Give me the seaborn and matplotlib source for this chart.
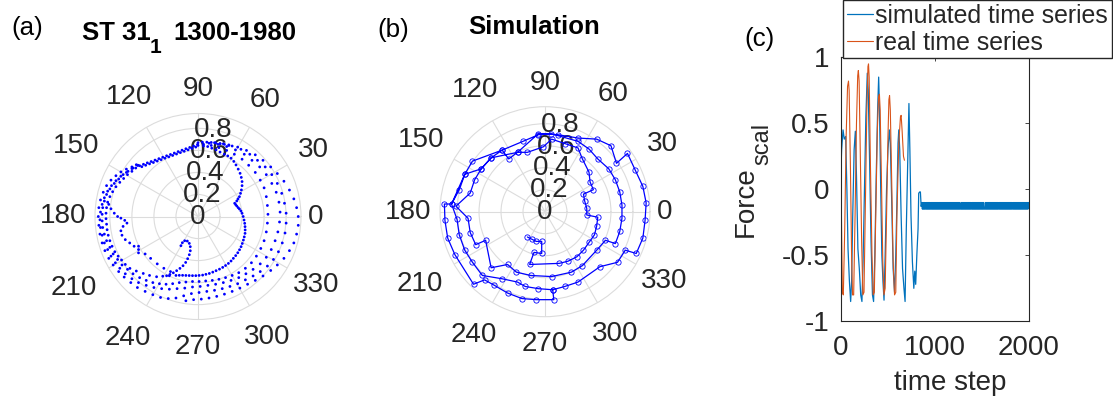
import numpy as np
import matplotlib
matplotlib.use("Agg")
import matplotlib.pyplot as plt
import seaborn as sns

# ---------------- data ----------------
# panel (a): measured force vector (x, y components) - dots
a_band = [(-0.53,0.461),(-0.495,0.474),(-0.46,0.487),(-0.425,0.499),(-0.39,0.512),(-0.355,0.525),(-0.32,0.538),
          (-0.285,0.551),(-0.25,0.563),(-0.215,0.576),(-0.18,0.589),(-0.145,0.602),(-0.11,0.615),(-0.075,0.627),
          (-0.04,0.640),(-0.005,0.653),(-0.51,0.452),(-0.475,0.465),(-0.44,0.478),(-0.405,0.49),(-0.37,0.503),
          (-0.335,0.516),(-0.30,0.529),(-0.265,0.541),(-0.23,0.554),(-0.195,0.567),(-0.16,0.58),(-0.125,0.592),
          (-0.09,0.605),(-0.055,0.618),(-0.02,0.63),(0.0,0.67),(0.04,0.675),(0.08,0.675),(0.12,0.672),
          (0.16,0.668),(0.20,0.662),(0.24,0.655),(0.28,0.645)]
a_right1 = [(0.00,0.645),(0.05,0.64),(0.088,0.635),(0.125,0.62),(0.164,0.605),(0.20,0.585),(0.239,0.565),
            (0.27,0.55),(0.30,0.529),(0.325,0.50),(0.345,0.468),(0.365,0.43),(0.382,0.392),(0.393,0.355),
            (0.40,0.317),(0.40,0.28),(0.394,0.241),(0.386,0.21),(0.376,0.18),(0.363,0.16),(0.352,0.141),
            (0.333,0.12),(0.342,0.108),(0.352,0.095),(0.365,0.08),(0.376,0.068),(0.39,0.05),(0.40,0.029),
            (0.41,0.0),(0.418,-0.032),(0.424,-0.062),(0.427,-0.092),(0.428,-0.122),(0.427,-0.153),(0.42,-0.185),
            (0.412,-0.214),(0.402,-0.245),(0.391,-0.274),(0.377,-0.302),(0.361,-0.329),(0.342,-0.355),
            (0.321,-0.38),(0.30,-0.404),(0.276,-0.426),(0.25,-0.445),(0.224,-0.462),(0.195,-0.478),
            (0.164,-0.492),(0.134,-0.505),(0.103,-0.517),(0.072,-0.525),(0.042,-0.532),(0.01,-0.535),
            (-0.02,-0.537),(-0.05,-0.537),(-0.08,-0.536),(-0.11,-0.535),(-0.14,-0.534),(-0.17,-0.534),(-0.20,-0.535)]
a_right2 = [(0.05,0.655),(0.12,0.645),(0.19,0.625),(0.26,0.60),(0.33,0.565),(0.40,0.52),(0.46,0.465),(0.52,0.40),
            (0.565,0.33),(0.60,0.26),(0.62,0.18),(0.63,0.10),(0.635,0.02),(0.63,-0.06),(0.62,-0.14),(0.60,-0.22),
            (0.57,-0.29),(0.53,-0.36),(0.485,-0.42),(0.43,-0.47),(0.37,-0.51),(0.31,-0.535),(0.25,-0.555),
            (0.19,-0.57),(0.13,-0.58),(0.07,-0.585),(0.01,-0.59)]
a_right3 = [(0.10,0.665),(0.18,0.655),(0.26,0.635),(0.34,0.605),(0.42,0.565),(0.49,0.51),(0.56,0.45),(0.62,0.38),
            (0.67,0.30),(0.71,0.22),(0.735,0.13),(0.745,0.04),(0.74,-0.05),(0.725,-0.14),(0.70,-0.22),
            (0.665,-0.30),(0.62,-0.37),(0.565,-0.43),(0.50,-0.48),(0.435,-0.52),(0.37,-0.555),(0.30,-0.58),
            (0.23,-0.60),(0.16,-0.615),(0.09,-0.625),(0.02,-0.635)]
a_right4 = [(0.15,0.67),(0.23,0.66),(0.31,0.64),(0.39,0.61),(0.47,0.565),(0.54,0.51),(0.61,0.45),(0.67,0.38),
            (0.72,0.30),(0.76,0.21),(0.785,0.12),(0.80,0.03),(0.80,-0.06),(0.79,-0.15),(0.765,-0.24),(0.73,-0.32),
            (0.685,-0.39),(0.63,-0.45),(0.565,-0.50),(0.50,-0.54),(0.43,-0.575),(0.36,-0.61),(0.29,-0.635),
            (0.22,-0.655),(0.15,-0.67),(0.08,-0.68),(0.01,-0.69)]
a_right5 = [(0.20,0.66),(0.28,0.65),(0.36,0.63),(0.44,0.60),(0.52,0.56),(0.59,0.51),(0.66,0.45),(0.72,0.39),
            (0.78,0.32),(0.83,0.24),(0.87,0.16),(0.895,0.08),(0.91,0.0),(0.91,-0.08),(0.895,-0.16),(0.87,-0.24),
            (0.83,-0.31),(0.78,-0.38),(0.72,-0.44),(0.66,-0.49),(0.59,-0.54),(0.52,-0.58),(0.45,-0.615),
            (0.38,-0.65),(0.31,-0.68),(0.24,-0.705),(0.17,-0.725),(0.10,-0.74),(0.03,-0.75)]
a_hook = [(-0.155,-0.265),(-0.142,-0.238),(-0.121,-0.220),(-0.097,-0.223),(-0.079,-0.244),(-0.070,-0.274),
          (-0.070,-0.311),(-0.079,-0.347),(-0.094,-0.383),(-0.112,-0.417),(-0.136,-0.447),(-0.164,-0.471),
          (-0.194,-0.492),(-0.224,-0.511),(-0.255,-0.526),(-0.285,-0.538)]
a_spike = [(-0.25,-0.50),(-0.31,-0.47),(-0.37,-0.43),(-0.43,-0.38),(-0.48,-0.34),(-0.54,-0.30),(-0.54,-0.27),
           (-0.54,-0.33),(-0.58,-0.27),(-0.62,-0.24),(-0.66,-0.21),(-0.69,-0.17),(-0.70,-0.13),(-0.68,-0.09),
           (-0.645,-0.06),(-0.665,-0.035),(-0.70,-0.015),(-0.73,0.0),(-0.76,0.03),(-0.79,0.07),(-0.81,0.11)]
a_left1 = [(-0.26,-0.538),(-0.32,-0.542),(-0.376,-0.547),(-0.44,-0.535),(-0.497,-0.517),(-0.56,-0.495),
           (-0.618,-0.471),(-0.66,-0.435),(-0.694,-0.395),(-0.725,-0.36),(-0.755,-0.32),(-0.78,-0.27),(-0.80,-0.22),
           (-0.815,-0.17),(-0.825,-0.12),(-0.83,-0.07),(-0.835,-0.02),(-0.835,0.03),(-0.83,0.08),(-0.82,0.13),
           (-0.80,0.18),(-0.775,0.225),(-0.745,0.27),(-0.71,0.31),(-0.675,0.345),(-0.64,0.38),(-0.60,0.41),
           (-0.565,0.44)]
a_left2 = [(-0.05,-0.59),(-0.11,-0.595),(-0.17,-0.60),(-0.23,-0.61),(-0.29,-0.615),(-0.35,-0.61),(-0.41,-0.60),
           (-0.47,-0.58),(-0.53,-0.555),(-0.59,-0.52),(-0.64,-0.48),(-0.69,-0.44),(-0.73,-0.39),(-0.77,-0.34),
           (-0.80,-0.28),(-0.83,-0.22),(-0.85,-0.16),(-0.865,-0.10),(-0.87,-0.04),(-0.87,0.02),(-0.865,0.08),
           (-0.85,0.14),(-0.83,0.20),(-0.80,0.25),(-0.76,0.30),(-0.72,0.34),(-0.68,0.38),(-0.635,0.41),
           (-0.59,0.44),(-0.545,0.465)]
a_left3 = [(-0.05,-0.64),(-0.12,-0.65),(-0.19,-0.655),(-0.26,-0.66),(-0.33,-0.655),(-0.40,-0.645),(-0.47,-0.625),
           (-0.54,-0.60),(-0.60,-0.565),(-0.66,-0.52),(-0.71,-0.47),(-0.75,-0.42),(-0.79,-0.36),(-0.82,-0.30),
           (-0.85,-0.24),(-0.87,-0.17),(-0.885,-0.10),(-0.89,-0.03),(-0.885,0.04),(-0.87,0.11),(-0.85,0.17),
           (-0.82,0.23),(-0.785,0.28),(-0.745,0.325),(-0.70,0.365),(-0.65,0.40),(-0.60,0.435),(-0.55,0.465)]
a_left4 = [(-0.06,-0.70),(-0.13,-0.72),(-0.20,-0.74),(-0.27,-0.745),(-0.34,-0.735),(-0.41,-0.71),(-0.48,-0.68),
           (-0.55,-0.645),(-0.61,-0.60),(-0.67,-0.55),(-0.72,-0.50),(-0.77,-0.44),(-0.81,-0.38),(-0.845,-0.31),
           (-0.87,-0.24),(-0.89,-0.16),(-0.90,-0.08),(-0.905,0.0),(-0.90,0.08),(-0.885,0.15),(-0.86,0.22),
           (-0.83,0.28),(-0.79,0.33),(-0.745,0.37),(-0.70,0.405),(-0.65,0.43),(-0.60,0.45),(-0.56,0.47),
           (-0.04,-0.755),(-0.11,-0.765)]

# panel (b): simulated force vector path (x, y components) - markers joined by lines
b_path = [(-0.16,-0.23),(-0.12,-0.25),(-0.08,-0.27),(-0.03,-0.27),(-0.03,-0.38),(-0.10,-0.37),(-0.14,-0.48),
          (0.13,-0.47),(0.21,-0.45),(0.29,-0.41),(0.35,-0.35),(0.40,-0.28),(0.45,-0.21),(0.47,-0.13),(0.48,-0.05),
          (0.38,-0.03),(0.38,0.03),(0.36,0.10),(0.35,0.16),(0.44,0.20),(0.41,0.27),(0.40,0.36),(0.34,0.48),
          (0.30,0.58),(0.18,0.62),(0.06,0.66),(-0.015,0.59),(-0.16,0.54),(-0.25,0.54),(-0.33,0.48),(-0.39,0.56),
          (-0.49,0.49),(-0.58,0.39),(-0.64,0.29),(-0.68,0.17),(-0.81,0.05),(-0.70,-0.06),(-0.68,-0.19),(-0.63,-0.30),
          (-0.54,-0.26),(-0.49,-0.51),(-0.34,-0.48),(-0.26,-0.55),(-0.13,-0.58),(0.06,-0.59),
          (0.24,-0.55),(0.34,-0.49),(0.47,-0.35),(0.55,-0.26),(0.64,-0.29),(0.68,-0.18),(0.70,-0.06),(0.70,0.06),
          (0.68,0.18),(0.64,0.29),(0.58,0.39),(0.48,0.48),(0.40,0.57),(0.30,0.64),(0.055,0.71),(-0.06,0.70),
          (-0.20,0.64),(-0.39,0.56),(-0.66,0.46),(-0.73,0.34),(-0.78,0.20),(-0.85,0.07),(-0.80,-0.07),(-0.78,-0.21),
          (-0.73,-0.35),(-0.66,-0.46),(-0.57,-0.58),(-0.39,-0.61),(-0.25,-0.64),(-0.18,-0.68),(-0.06,-0.70),(0.07,-0.71),
          (0.18,-0.68),(0.30,-0.64),(0.50,-0.50),(0.66,-0.46),(0.73,-0.35),
          (0.83,-0.38),(0.89,-0.24),(0.91,-0.08),(0.92,0.08),(0.89,0.23),(0.82,0.38),(0.75,0.53),(0.65,0.44),
          (0.60,0.60),(0.47,0.66),(0.30,0.67),(0.12,0.70),(-0.06,0.71),(-0.25,0.54),(-0.49,0.49),(-0.58,0.39),
          (-0.73,0.34),(-0.85,0.07),(-0.915,0.07),(-0.91,-0.08),(-0.885,-0.24),(-0.82,-0.39),(-0.65,-0.66),(-0.55,-0.62),
          (-0.46,-0.67),(-0.34,-0.74),(-0.21,-0.79),(-0.08,-0.80),(0.08,-0.80),(0.07,-0.71)]

# panel (c): time series
sim_steps_osc = [0, 12, 27, 40, 55, 68, 80, 95, 108, 118, 130, 145, 158, 170, 185, 200, 215, 228, 240, 255,
                 270, 285, 295, 310, 325, 340, 352, 365, 380, 395, 406, 415, 428, 440, 452, 463, 475, 490, 505, 520,
                 530, 545, 560, 575, 588, 600, 612, 620, 630, 645, 660, 675, 687, 700, 715, 728, 738, 750, 765, 780,
                 790, 800, 812, 825, 832, 842, 850, 858]
sim_vals_osc = [0.05, 0.30, 0.45, 0.38, 0.40, 0.0, -0.45, -0.70, -0.85, -0.70, -0.2, 0.3, 0.44, 0.1, -0.45, -0.60,
                -0.80, -0.85, -0.55, 0.0, 0.55, 0.88, 0.75, 0.2, -0.4, -0.80, -0.85, -0.5, 0.1, 0.6, 0.85, 0.6, 0.0,
                -0.5, -0.70, -0.84, -0.5, 0.0, 0.3, 0.45, 0.35, -0.1, -0.6, -0.78, -0.5, -0.1, 0.35, 0.45, 0.3, -0.2,
                -0.6, -0.75, -0.85, -0.3, 0.2, 0.65, 0.3, -0.2, -0.55, -0.75, -0.62, -0.72, -0.5, -0.3, -0.03,
                -0.02, -0.02, -0.13]
# noisy plateau after the collapse (two levels, sampled densely)
sim_vals_flat = [-0.10, -0.15, -0.10, -0.15, -0.10, -0.15, -0.10, -0.15, -0.15, -0.10, -0.15, -0.10, -0.15, -0.10,
                 -0.15, -0.10, -0.15, -0.10, -0.15, -0.15, -0.10, -0.15, -0.10, -0.15, -0.10, -0.15, -0.10, -0.15,
                 -0.10, -0.15, -0.10, -0.15, -0.10, -0.15, -0.10, -0.15, -0.15, -0.10, -0.15, -0.10, -0.15, -0.10,
                 -0.15, -0.10, -0.15, -0.10, -0.15, -0.10, -0.15, -0.10, -0.15, -0.10, -0.15, -0.10, -0.15, -0.10,
                 -0.15, -0.15, -0.10, -0.15, -0.10, -0.15, -0.10, -0.15, -0.10, -0.15, -0.10, -0.15, -0.10, -0.15,
                 -0.10, -0.15, -0.10, -0.15, -0.10, -0.15, -0.10, -0.15, -0.10, -0.15, -0.15, -0.15, -0.10, -0.15,
                 -0.10, -0.15, -0.10, -0.15, -0.10, -0.15, -0.10, -0.15, -0.10, -0.15, -0.10, -0.15, -0.10, -0.15,
                 -0.10, -0.15, -0.10, -0.15, -0.10, -0.15, -0.15, -0.10, -0.15, -0.10, -0.15, -0.10, -0.15, -0.10,
                 -0.15, -0.10, -0.15, -0.10, -0.15, -0.10, -0.15, -0.10, -0.15, -0.10, -0.15, -0.10, -0.15, -0.10,
                 -0.15, -0.10, -0.15, -0.10, -0.15, -0.15, -0.15, -0.10, -0.15, -0.10, -0.15, -0.10, -0.15, -0.10,
                 -0.15, -0.10, -0.15, -0.10, -0.15, -0.10, -0.15, -0.10, -0.15, -0.10, -0.15, -0.10, -0.15, -0.10,
                 -0.15, -0.10, -0.15, -0.10, -0.15, -0.10, -0.15, -0.15, -0.10, -0.15, -0.10, -0.15, -0.10, -0.15,
                 -0.10, -0.15, -0.10, -0.15, -0.10, -0.15, -0.10, -0.15, -0.10, -0.15, -0.10, -0.15, -0.10, -0.15,
                 -0.10, -0.15, -0.10, -0.15, -0.10, -0.15, -0.10, -0.15, -0.15, -0.10, -0.15, -0.10, -0.15, -0.10,
                 -0.15, -0.10, -0.15, -0.10, -0.15, -0.10, -0.15, -0.10, -0.15, -0.10, -0.15, -0.10, -0.15, -0.10,
                 -0.15, -0.10, -0.15, -0.10, -0.15, -0.10, -0.15, -0.10, -0.15, -0.10, -0.15, -0.10, -0.15, -0.10]
real_steps = [0, 10, 20, 30, 45, 60, 75, 85, 92, 105, 118, 128, 140, 155, 170, 183, 190, 198, 210, 225,
              238, 250, 265, 280, 292, 298, 305, 318, 335, 348, 360, 375, 392, 405, 414, 422, 435, 450, 462, 475,
              490, 505, 515, 522, 530, 545, 560, 575, 588, 600, 620, 638, 645, 655, 670, 680]
real_vals = [0.34, -0.2, -0.78, -0.80, -0.3, 0.4, 0.78, 0.82, 0.75, 0.2, -0.5, -0.80, -0.80, -0.2, 0.5, 0.86,
             0.90, 0.82, 0.3, -0.4, -0.80, -0.78, -0.1, 0.6, 0.93, 0.95, 0.85, 0.2, -0.5, -0.80, -0.78, -0.2,
             0.45, 0.70, 0.72, 0.6, 0.1, -0.55, -0.80, -0.75, -0.2, 0.4, 0.68, 0.71, 0.6, 0.05, -0.55, -0.80,
             -0.78, -0.2, 0.35, 0.55, 0.56, 0.45, 0.25, 0.22]

theta_ticks = [0, 30, 60, 90, 120, 150, 180, 210, 240, 270, 300, 330]
r_ticks = [0, 0.2, 0.4, 0.6, 0.8]
x_ticks = [0, 1000, 2000]
y_ticks = [-1, -0.5, 0, 0.5, 1]
y_ticklabels = ["-1", "-0.5", "0", "0.5", "1"]

# ---------------- style ----------------
sns.set_style("white")
plt.rcParams["font.family"] = ["Liberation Sans", "DejaVu Sans"]
plt.rcParams["axes.unicode_minus"] = False
plt.rcParams["path.simplify"] = False

TXT = "#262626"
GRID = "#dcdcdc"
W, H = 1113, 398
fig = plt.figure(figsize=(W / 100, H / 100), dpi=100)


def fx(px):
    return px / W


def fy(py):
    return 1 - py / H


# theta label distance beyond outer ring (px)
lab_off = [15, 30, 31, 24, 35, 38, 32, 40, 37, 27, 36, 33]


def polar_axes(cx, cy, rpx, rmax):
    ax = fig.add_axes([fx(cx - rpx), fy(cy + rpx), 2 * rpx / W, 2 * rpx / H], projection="polar")
    ax.set_ylim(0, rmax)
    ax.set_yticks([0.2, 0.4, 0.6, 0.8])
    ax.set_yticklabels([])
    ax.set_xticks(np.deg2rad(theta_ticks))
    ax.set_xticklabels([])
    ax.tick_params(length=0, pad=0)
    ax.grid(True, color=GRID, lw=0.8)
    ax.spines["polar"].set_color(GRID)
    ax.spines["polar"].set_linewidth(0.8)
    ppu = rpx / rmax
    for ang, off in zip(theta_ticks, lab_off):
        ax.text(np.deg2rad(ang), (rpx + off) / ppu, str(ang), ha="center", va="center",
                fontsize=20, color=TXT, clip_on=False)
    for v in r_ticks:
        ax.text(np.deg2rad(80), v, "0" if v == 0 else f"{v:g}", ha="center", va="center",
                fontsize=20, color=TXT, zorder=2)
    return ax


def to_polar(pts):
    arr = np.array(pts)
    th = np.arctan2(arr[:, 1], arr[:, 0])
    r = np.hypot(arr[:, 0], arr[:, 1])
    return th, r


# ---- panel (a) ----
axa = polar_axes(198, 216.5, 103, 0.935)
a_all = a_band + a_right1 + a_right2 + a_right3 + a_right4 + a_right5 + a_hook + a_spike + \
    a_left1 + a_left2 + a_left3 + a_left4
tha, ra = to_polar(a_all)
sns.scatterplot(x=tha, y=ra, ax=axa, color="blue", s=4, edgecolor="none", marker="o", zorder=3)
axa.set_xlabel("")
axa.set_ylabel("")

# ---- panel (b) ----
axb = polar_axes(545, 211.7, 105, 0.955)
thb, rb = to_polar(b_path)
sns.lineplot(x=thb, y=rb, ax=axb, sort=False, estimator=None, color="blue", lw=0.9,
             marker="o", markersize=3.8, markerfacecolor="none", markeredgecolor="blue",
             markeredgewidth=0.6, zorder=3)
axb.set_xlabel("")
axb.set_ylabel("")

# ---- panel (c) ----
axc = fig.add_axes([fx(840.5), fy(321.3), 188 / W, 264 / H])
sim_steps = list(sim_steps_osc) + list(np.linspace(866, 2000, len(sim_vals_flat)))
sim_vals = list(sim_vals_osc) + list(sim_vals_flat)
sns.lineplot(x=sim_steps, y=sim_vals, ax=axc, color="#0072BD", lw=0.9, estimator=None,
             label="simulated time series")
sns.lineplot(x=real_steps, y=real_vals, ax=axc, color="#D95319", lw=0.8, estimator=None,
             label="real time series")
axc.set_xlim(0, 2000)
axc.set_ylim(-1, 1)
axc.set_xticks(x_ticks)
axc.set_xticklabels([str(t) for t in x_ticks])
axc.set_yticks(y_ticks)
axc.set_yticklabels(y_ticklabels)
axc.tick_params(direction="in", length=3, width=0.6, top=True, right=True, labelsize=20,
                colors=TXT, pad=8)
axc.tick_params(axis="x", pad=10)
for sp in axc.spines.values():
    sp.set_color(TXT)
    sp.set_linewidth(0.8)
    sp.set_visible(True)
axc.set_xlabel("")
axc.set_ylabel("")
handles, labels = axc.get_legend_handles_labels()
axc.get_legend().remove()
leg = fig.legend(handles, labels, loc="upper left", bbox_to_anchor=(fx(843), 1.0), fontsize=17.9,
                 frameon=True, fancybox=False, edgecolor="#262626", framealpha=1, borderpad=0.15,
                 handlelength=1.05, handletextpad=0.1, labelspacing=0.12, borderaxespad=0)
leg.get_frame().set_linewidth(1.0)

# y label "Force" with a MATLAB-style subscript "scal"
fig.text(fx(753), fy(237), "Force", rotation=90, rotation_mode="anchor", ha="left",
         va="baseline", fontsize=20, color=TXT)
fig.text(fx(768), fy(165), "scal", rotation=90, rotation_mode="anchor", ha="left",
         va="baseline", fontsize=17, color=TXT)
fig.text(fx(950.5), fy(382.5), "time step", ha="center", va="center", fontsize=20, color=TXT)

# ---- titles & panel letters ----
fig.text(fx(82), fy(40), "ST 31", ha="left", va="baseline", fontsize=18.5,
         fontweight="bold", color="black")
fig.text(fx(150), fy(53), "1", ha="left", va="baseline", fontsize=15,
         fontweight="bold", color="black")
fig.text(fx(173), fy(40), "1300-1980", ha="left", va="baseline", fontsize=18.5,
         fontweight="bold", color="black")
fig.text(fx(533.8), fy(34.5), "Simulation", ha="center", va="baseline", fontsize=18.5,
         fontweight="bold", color="black")
fig.text(fx(27.5), fy(35), "(a)", ha="center", va="baseline", fontsize=18.7, color="black")
fig.text(fx(393), fy(37.3), "(b)", ha="center", va="baseline", fontsize=18.7, color="black")
fig.text(fx(760), fy(45.7), "(c)", ha="center", va="baseline", fontsize=18.7, color="black")

fig.savefig("out.png", dpi=100, facecolor="white")
